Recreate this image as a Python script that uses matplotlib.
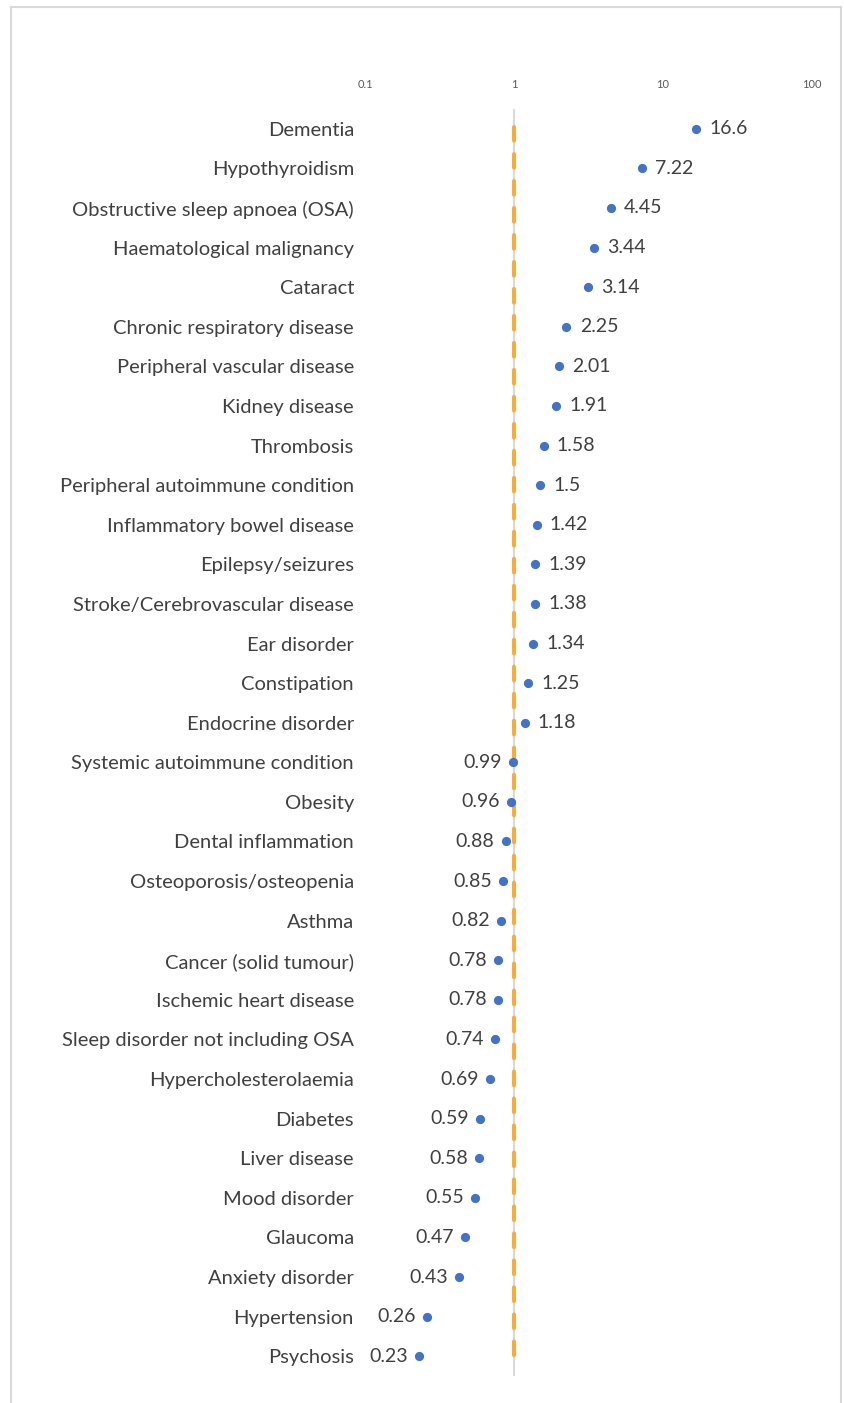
import numpy as np
import matplotlib.pyplot as plt
from matplotlib.patches import Rectangle

plt.rcParams['font.family'] = ['Lato', 'DejaVu Sans']

conditions = ['Dementia', 'Hypothyroidism', 'Obstructive sleep apnoea (OSA)',
              'Haematological malignancy', 'Cataract', 'Chronic respiratory disease',
              'Peripheral vascular disease', 'Kidney disease', 'Thrombosis',
              'Peripheral autoimmune condition', 'Inflammatory bowel disease',
              'Epilepsy/seizures', 'Stroke/Cerebrovascular disease', 'Ear disorder',
              'Constipation', 'Endocrine disorder', 'Systemic autoimmune condition',
              'Obesity', 'Dental inflammation', 'Osteoporosis/osteopenia', 'Asthma',
              'Cancer (solid tumour)', 'Ischemic heart disease',
              'Sleep disorder not including OSA', 'Hypercholesterolaemia', 'Diabetes',
              'Liver disease', 'Mood disorder', 'Glaucoma', 'Anxiety disorder',
              'Hypertension', 'Psychosis']
ratios = [16.6, 7.22, 4.45, 3.44, 3.14, 2.25, 2.01, 1.91, 1.58, 1.5, 1.42, 1.39,
          1.38, 1.34, 1.25, 1.18, 0.99, 0.96, 0.88, 0.85, 0.82, 0.78, 0.78, 0.74,
          0.69, 0.59, 0.58, 0.55, 0.47, 0.43, 0.26, 0.23]
xticks = [0.1, 1, 10, 100]
xtick_labels = ['0.1', '1', '10', '100']

W, H = 845, 1403
fig = plt.figure(figsize=(W / 100, H / 100), dpi=100)
ax = fig.add_axes([365 / W, 1 - 1376 / H, (812 - 365) / W, (1376 - 109) / H])

y = np.arange(len(conditions))
text_col = '#404040'

# reference line at 1: gray axis line with orange dashes over it
ax.axvline(1, color='#d9d9d9', lw=1.5, zorder=1)
ref, = ax.plot([1, 1], [-0.05, len(conditions) - 1], color='#F8AC3C', lw=2.9, zorder=2)
ref.set_dashes((3.4, 3.3))
ref.set_dash_capstyle('round')

ax.scatter(ratios, y, s=44, color='#4472C4', zorder=3, linewidths=0)

for v, yi in zip(ratios, y):
    lab = f'{v:g}'
    if v >= 1:
        ax.annotate(lab, (v, yi), xytext=(9.5, 0), textcoords='offset points',
                    ha='left', va='center', fontsize=14, color=text_col)
    else:
        ax.annotate(lab, (v, yi), xytext=(-8, 0), textcoords='offset points',
                    ha='right', va='center', fontsize=14, color=text_col)

ax.set_xscale('log')
ax.set_xlim(0.1, 100)
ax.set_ylim(len(conditions) - 0.5, -0.5)
ax.set_xticks(xticks)
ax.set_xticklabels(xtick_labels)
ax.minorticks_off()
ax.xaxis.tick_top()
ax.tick_params(axis='x', length=0, pad=14, labelsize=8, labelcolor='#595959')
ax.set_yticks(y)
ax.set_yticklabels(conditions)
ax.tick_params(axis='y', length=0, pad=8, labelsize=14.5, labelcolor=text_col)
for s in ax.spines.values():
    s.set_visible(False)

# outer border
fig.patches.append(Rectangle((11 / W, -0.01), (841 - 11) / W, 1.01 - 7 / H,
                             transform=fig.transFigure, fill=False,
                             edgecolor='#d9d9d9', lw=1.5))

fig.savefig('out.png', dpi=100)
